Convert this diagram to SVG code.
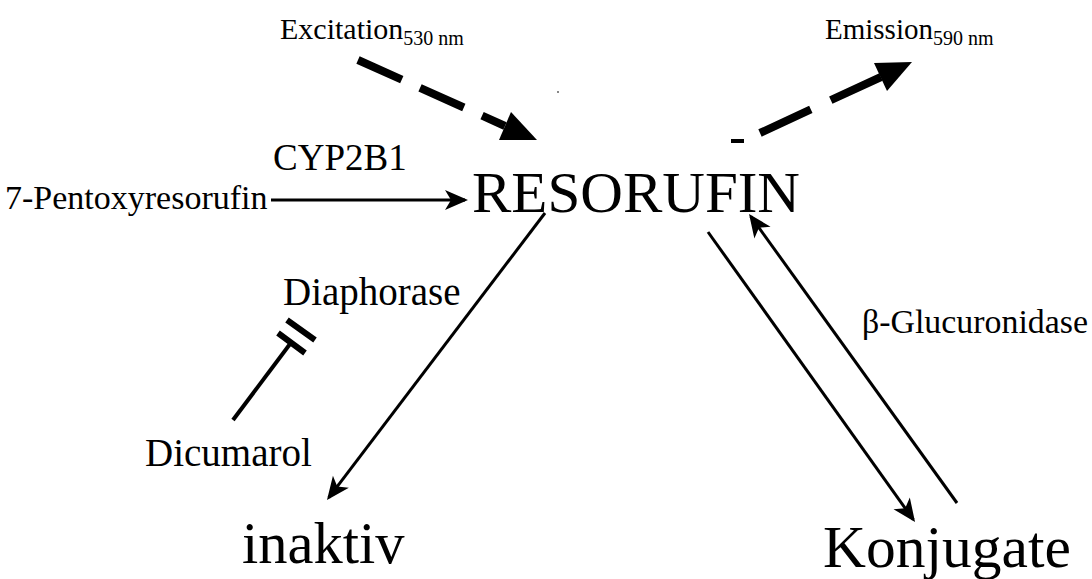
<svg xmlns="http://www.w3.org/2000/svg" width="1092" height="579" viewBox="0 0 1092 579">
<style>
.t{font-family:'Liberation Serif','Times New Roman',Tinos,'DejaVu Serif',serif;fill:#000}
.big{font-size:58px}
.mid{font-size:34px}
.sub{font-size:20px}
.thin{stroke:#000;stroke-width:3;fill:none}
.dash{stroke:#000;stroke-width:8;fill:none}
</style>
<defs>
<marker id="ah" markerUnits="userSpaceOnUse" markerWidth="30" markerHeight="30" viewBox="-25 -12 30 24" refX="0" refY="0" orient="auto">
<path d="M3,0 L-20,-10 L-14,0 L-20,10 z" fill="#000"/>
</marker>
</defs>
<rect width="1092" height="579" fill="#fff"/>
<g id="connectors">
<path class="dash" d="M358,60 L505,126" stroke-dasharray="48 20"/>
<polygon points="537,140 499,140 511,112" fill="#000"/>
<path class="dash" d="M760,133 L881,77" stroke-dasharray="56 22"/>
<polygon points="912,62 874,63 887,91" fill="#000"/>
<rect x="731" y="139" width="13" height="4" fill="#000"/>
<rect x="557" y="91" width="2" height="2" fill="#888"/>
<path class="thin" d="M271,200 L465,200" marker-end="url(#ah)"/>
<path class="thin" d="M545,213 L328.8,497.6" marker-end="url(#ah)"/>
<path class="thin" d="M708,232 L913.3,519.6" marker-end="url(#ah)"/>
<path class="thin" d="M957,503 L750.8,216.4" marker-end="url(#ah)"/>
<path stroke="#000" stroke-width="4" fill="none" d="M233,420 L290,344"/>
<path stroke="#000" stroke-width="6" fill="none" d="M278,333 L305,353 M287,320 L315,340"/>
</g>
<g id="excitation"><text class="t" x="280" y="39" font-size="30">Excitation<tspan class="sub" dy="6">530 nm</tspan></text></g>
<g id="emission"><text class="t" x="825" y="39" font-size="29">Emission<tspan class="sub" dy="6">590 nm</tspan></text></g>
<g id="cyp"><text class="t" x="273" y="170" font-size="37">CYP2B1</text></g>
<g id="pentoxy"><text class="t mid" x="5" y="209">7-Pentoxyresorufin</text></g>
<g id="resorufin"><text class="t big" x="472" y="212" textLength="328" lengthAdjust="spacingAndGlyphs">RESORUFIN</text></g>
<g id="diaphorase"><text class="t" x="283" y="305" font-size="39">Diaphorase</text></g>
<g id="dicumarol"><text class="t" x="145" y="466" font-size="39">Dicumarol</text></g>
<g id="glucuronidase"><text class="t" x="862" y="333" font-size="34" textLength="226" lengthAdjust="spacingAndGlyphs">β-Glucuronidase</text></g>
<g id="inaktiv"><text class="t" x="242" y="563" font-size="58.5">inaktiv</text></g>
<g id="konjugate"><text class="t" x="823" y="567" font-size="59.5">Konjugate</text></g>
</svg>
